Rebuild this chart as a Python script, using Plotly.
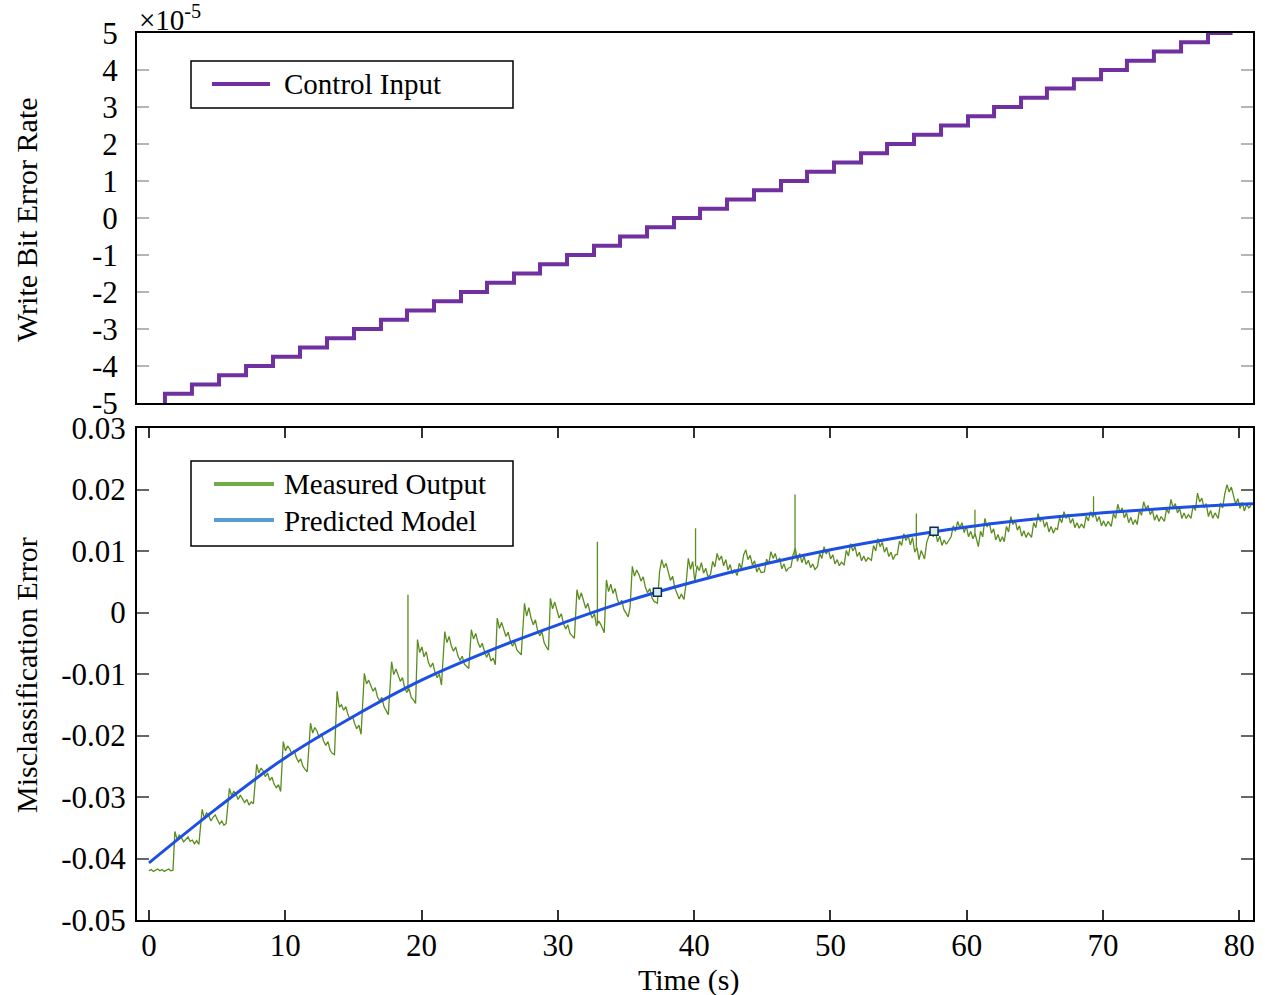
import numpy as np
import plotly.graph_objects as go

W, H = 1265, 995
ML, MR, MT, MB = 137, 12, 33, 75

FONT = "Liberation Serif"
PURPLE = "#7030a0"
GREEN_LINE = "#5a8c1e"
GREEN_LEG = "#70ad47"
BLUE_LINE = "#1d4fe3"
BLUE_LEG = "#5b9bd5"

# ---- top panel: control input (x1e-5), staircase ----
STEP_T = [1.17, 3.15, 5.14, 7.12, 9.10, 11.08, 13.06, 15.04, 17.02, 18.93,
          20.91, 22.89, 24.80, 26.78, 28.69, 30.67, 32.65, 34.56, 36.54, 38.52,
          40.43, 42.41, 44.39, 46.37, 48.28, 50.26, 52.24, 54.15, 56.13, 58.11,
          60.09, 62.00, 63.98, 65.88, 67.86, 69.85, 71.75, 73.73, 75.72, 77.70]
STEP_LEVEL = [-5.0, -4.75, -4.5, -4.25, -4.0, -3.75, -3.5, -3.25, -3.0, -2.75,
              -2.5, -2.25, -2.0, -1.75, -1.5, -1.25, -1.0, -0.75, -0.5, -0.25,
              0.0, 0.25, 0.5, 0.75, 1.0, 1.25, 1.5, 1.75, 2.0, 2.25,
              2.5, 2.75, 3.0, 3.25, 3.5, 3.75, 4.0, 4.25, 4.5, 4.75, 5.0]
STEP_END = 79.5

# ---- bottom panel: measured output (x1e-3), one row per input step ----
DT = 0.16
MEAS_JUMP_T = [0.0, 1.9, 3.9, 5.9, 7.9, 9.85, 11.85, 13.8, 15.8, 17.8,
               19.7, 21.7, 23.65, 25.55, 27.55, 29.45, 31.4, 33.4, 35.3, 37.3,
               39.25, 41.2, 43.15, 45.15, 47.1, 49.05, 51.0, 53.0, 54.9, 56.9,
               58.85, 60.85, 62.75, 64.75, 66.65, 68.6, 70.6, 72.5, 74.5, 76.45,
               78.45]
MEAS_SEG = [
    [-42.0, -41.8, -42.1, -41.9, -41.7, -42.0, -41.8, -42.1, -41.9, -41.7, -42.0, -41.9],
    [-35.6, -36.9, -36.2, -36.6, -37.3, -36.8, -36.5, -37.2, -37.0, -37.6, -37.1, -37.7],
    [-32.0, -33.4, -32.6, -33.0, -33.9, -33.3, -32.9, -33.7, -34.4, -33.9, -34.6, -34.3],
    [-28.6, -29.8, -29.1, -29.5, -30.4, -29.7, -30.2, -30.9, -30.4, -31.3, -30.8, -31.1],
    [-24.7, -26.1, -25.3, -25.8, -26.7, -26.1, -27.3, -26.8, -27.9, -28.5, -28.0, -29.1],
    [-21.0, -22.5, -21.7, -22.2, -23.1, -22.4, -23.6, -24.3, -23.8, -25.0, -25.5, -25.9],
    [-18.0, -19.6, -18.7, -19.3, -20.4, -19.7, -20.9, -21.6, -21.0, -22.4, -22.9, -23.1],
    [-12.8, -15.4, -15.0, -15.9, -15.3, -16.6, -17.4, -16.8, -18.0, -18.9, -18.3, -19.8],
    [-9.9, -11.6, -11.0, -11.9, -12.8, -12.2, -13.7, -14.4, -13.8, -15.3, -16.0, -16.6],
    [-8.0, -10.1, -9.2, -10.4, -11.2, -10.6, -12.3, -13.0, -12.4, -13.8, -14.2, -14.8],
    [-4.4, -6.5, -5.6, -7.2, -6.4, -8.1, -8.9, -8.2, -9.7, -10.6, -10.0, -11.8],
    [-3.1, -4.9, -3.9, -5.4, -6.3, -5.6, -7.0, -7.8, -7.1, -8.4, -8.8, -9.1],
    [-2.8, -4.3, -3.4, -4.8, -5.7, -5.0, -6.3, -7.3, -6.5, -7.9, -7.4, -8.5],
    [-0.9, -2.6, -1.6, -3.0, -3.9, -3.2, -4.6, -5.5, -4.8, -6.1, -6.6, -6.9],
    [1.5, -0.6, 0.8, -0.9, -2.0, -1.2, -2.9, -3.8, -3.1, -4.9, -5.6, -6.1],
    [2.3, 0.6, 1.7, 0.2, -0.9, -0.2, -1.8, -2.7, -2.0, -3.4, -3.9, -4.2],
    [3.7, 2.1, 3.2, 1.8, 0.7, 1.5, 0.0, -0.9, -0.2, -2.2, -1.4, -2.0],
    [-3.3, 5.3, 3.4, 4.6, 3.1, 3.9, 2.2, 1.3, 2.0, 0.5, -0.2, -0.7],
    [0.9, 7.5, 5.9, 6.9, 6.2, 5.1, 5.8, 4.1, 3.2, 3.9, 2.4, 1.8],
    [1.5, 6.6, 8.6, 7.3, 8.0, 6.4, 5.2, 5.9, 4.0, 3.1, 2.2, 3.0],
    [2.1, 4.8, 8.8, 7.0, 8.3, 5.0, 7.6, 6.8, 8.1, 6.4, 7.2, 5.8],
    [6.2, 8.3, 7.4, 9.6, 8.5, 9.2, 7.6, 8.6, 6.9, 7.8, 6.3, 7.0],
    [6.0, 8.0, 7.1, 9.4, 10.2, 8.6, 9.3, 7.7, 8.4, 6.6, 7.3, 6.5],
    [6.6, 8.7, 7.9, 9.9, 8.8, 9.6, 8.2, 8.9, 7.1, 7.9, 6.7, 7.2],
    [7.4, 9.4, 10.4, 8.3, 9.6, 8.1, 9.1, 7.8, 8.5, 7.3, 7.9, 7.0],
    [7.5, 9.6, 8.8, 10.7, 9.5, 10.2, 8.7, 9.4, 7.9, 8.6, 7.6, 8.2],
    [7.7, 10.1, 9.2, 11.2, 10.0, 10.7, 9.1, 9.8, 8.4, 9.2, 8.3, 8.9],
    [8.5, 10.9, 10.0, 12.0, 10.7, 11.4, 9.8, 10.6, 9.1, 9.8, 8.6, 9.4],
    [9.4, 11.6, 10.9, 12.8, 11.7, 12.5, 11.0, 12.2, 9.8, 10.6, 8.6, 10.1],
    [8.7, 11.4, 12.6, 13.5, 12.3, 13.1, 11.5, 12.4, 10.9, 11.8, 11.1, 11.6],
    [12.3, 14.1, 13.2, 14.8, 13.8, 14.6, 13.0, 14.0, 12.3, 13.2, 12.0, 12.8],
    [10.7, 13.2, 12.3, 15.3, 13.9, 14.6, 12.9, 13.6, 11.8, 12.7, 11.5, 12.3],
    [11.5, 14.0, 13.1, 15.6, 14.3, 15.0, 13.4, 14.1, 12.4, 13.3, 12.2, 13.0],
    [12.2, 14.6, 13.8, 16.1, 14.8, 15.5, 13.9, 14.7, 13.1, 14.0, 12.9, 13.7],
    [13.5, 15.4, 14.6, 16.4, 15.3, 16.0, 14.5, 15.3, 13.8, 14.6, 13.7, 14.4],
    [13.7, 15.7, 14.9, 16.4, 15.5, 16.2, 14.8, 15.6, 14.1, 14.9, 14.0, 14.8],
    [14.0, 16.1, 15.3, 17.6, 16.3, 17.0, 15.4, 16.2, 14.6, 15.5, 14.3, 15.1],
    [14.3, 16.6, 15.8, 18.0, 16.8, 17.4, 15.9, 16.6, 15.0, 15.9, 14.8, 15.6],
    [14.8, 16.9, 16.1, 18.4, 17.0, 17.7, 16.2, 16.9, 15.3, 16.2, 15.3, 15.9],
    [15.3, 17.4, 16.6, 19.4, 18.0, 18.6, 17.0, 17.7, 15.6, 16.6, 15.3, 16.2],
    [15.3, 17.8, 17.0, 19.3, 20.8, 19.6, 20.4, 19.0, 17.6, 18.5, 16.9, 17.9, 16.5, 17.6, 17.0, 17.4],
]
# single-sample spikes in the measurement (x1e-3)
SPIKE_T = [19.0, 32.9, 40.1, 47.4, 56.3, 60.6, 69.3]
SPIKE_BASE = [-12.7, -1.8, 7.5, 9.0, 10.6, 12.4, 15.6]
SPIKE_TOP = [2.9, 11.5, 13.7, 19.2, 16.1, 16.7, 18.9]

# predicted model (x1e-3)
MODEL_T = [0, 5, 10, 15, 20, 25, 30, 35, 40, 45, 50, 55, 60, 65, 70, 75, 80, 81]
MODEL_Y = [-40.7, -31.8, -23.6, -16.9, -11.0, -6.2, -2.0, 1.8, 5.0, 7.8,
           10.2, 12.2, 13.9, 15.2, 16.2, 17.0, 17.6, 17.7]
MARK_T = [37.3, 57.6]
MARK_Y = [3.3, 13.2]

TOP_TICKS = [5, 4, 3, 2, 1, 0, -1, -2, -3, -4, -5]
BOT_TICKS = [0.03, 0.02, 0.01, 0, -0.01, -0.02, -0.03, -0.04, -0.05]
BOT_TICKTEXT = ["0.03", "0.02", "0.01", "0", "-0.01", "-0.02", "-0.03", "-0.04", "-0.05"]
X_TICKS = [0, 10, 20, 30, 40, 50, 60, 70, 80]


def px(x):
    return (x - ML) / (W - ML - MR)


def py(y):
    return (H - MB - y) / (H - MT - MB)


fig = go.Figure()

# top: staircase
fig.add_trace(go.Scatter(
    x=[STEP_T[0]] + STEP_T + [STEP_END],
    y=STEP_LEVEL + [STEP_LEVEL[-1]],
    mode="lines", line=dict(color=PURPLE, width=4, shape="hv"),
    xaxis="x", yaxis="y", showlegend=False))

# bottom: measured
mt, my = [], []
for t0, seg in zip(MEAS_JUMP_T, MEAS_SEG):
    for j, v in enumerate(seg):
        mt.append(t0 + j * DT)
        my.append(v * 1e-3)
fig.add_trace(go.Scatter(x=mt, y=my, mode="lines",
                         line=dict(color=GREEN_LINE, width=1.3),
                         xaxis="x2", yaxis="y2", showlegend=False))
sx, sy = [], []
for t, b, tp in zip(SPIKE_T, SPIKE_BASE, SPIKE_TOP):
    sx += [t, t, None]
    sy += [b * 1e-3, tp * 1e-3, None]
fig.add_trace(go.Scatter(x=sx, y=sy, mode="lines",
                         line=dict(color=GREEN_LINE, width=1.3),
                         xaxis="x2", yaxis="y2", showlegend=False))

# bottom: model
fig.add_trace(go.Scatter(x=MODEL_T, y=[v * 1e-3 for v in MODEL_Y], mode="lines",
                         line=dict(color=BLUE_LINE, width=3, shape="spline"),
                         xaxis="x2", yaxis="y2", showlegend=False))
fig.add_trace(go.Scatter(x=MARK_T, y=[v * 1e-3 for v in MARK_Y], mode="markers",
                         marker=dict(symbol="square", size=8, color="#d6eeee",
                                     line=dict(color="#0d2a50", width=1.5)),
                         xaxis="x2", yaxis="y2", showlegend=False))

tickfont = dict(family=FONT, size=31, color="black")
xr = [-0.88, 81.0]
top_dom = [py(403), 1.0]
bot_dom = [0.0, py(428)]

fig.update_layout(
    width=W, height=H,
    margin=dict(l=ML, r=MR, t=MT, b=MB, autoexpand=False),
    plot_bgcolor="white", paper_bgcolor="white",
    font=dict(family=FONT, color="black"),
    xaxis=dict(domain=[0, 1], anchor="y", range=xr, showticklabels=False,
               ticks="", showgrid=False, zeroline=False, automargin=False,
               showline=True, linecolor="black", linewidth=2, mirror=True),
    yaxis=dict(domain=top_dom, anchor="x", range=[-5, 5],
               tickvals=TOP_TICKS, ticktext=[str(v) for v in TOP_TICKS],
               ticks="inside", ticklen=12, tickcolor="#b5b5b5", tickwidth=1.5,
               tickfont=tickfont, ticklabelstandoff=11, automargin=False,
               showgrid=False, zeroline=False,
               showline=True, linecolor="black", linewidth=2, mirror="ticks"),
    xaxis2=dict(domain=[0, 1], anchor="y2", range=xr,
                tickvals=X_TICKS, ticktext=[str(v) for v in X_TICKS],
                ticks="inside", ticklen=10, tickcolor="#333333", tickwidth=1.5,
                tickfont=tickfont, ticklabelstandoff=-3, automargin=False,
                showgrid=False, zeroline=False,
                showline=True, linecolor="black", linewidth=2, mirror="ticks"),
    yaxis2=dict(domain=bot_dom, anchor="x2", range=[-0.05, 0.03],
                tickvals=BOT_TICKS, ticktext=BOT_TICKTEXT,
                ticks="inside", ticklen=12, tickcolor="#666666", tickwidth=1.5,
                tickfont=tickfont, ticklabelstandoff=3, automargin=False,
                showgrid=False, zeroline=False,
                showline=True, linecolor="black", linewidth=2, mirror="ticks"),
)

ann = []
ann.append(dict(text="Write Bit Error Rate", x=px(27), y=py(220), xref="paper", yref="paper",
                xanchor="center", yanchor="middle",
                textangle=-90, showarrow=False, font=dict(family=FONT, size=30)))
ann.append(dict(text="Misclassification Error", x=px(27), y=py(675), xref="paper", yref="paper",
                xanchor="center", yanchor="middle",
                textangle=-90, showarrow=False, font=dict(family=FONT, size=30)))
ann.append(dict(text="Time (s)", x=px(688), y=py(980), xref="paper", yref="paper",
                xanchor="center", yanchor="middle",
                showarrow=False, font=dict(family=FONT, size=30)))
ann.append(dict(text="×10<sup>-5</sup>", x=px(137), y=py(18), xref="paper", yref="paper",
                xanchor="left", yanchor="middle", showarrow=False,
                font=dict(family=FONT, size=29)))

# legend boxes drawn by hand
shapes = [
    dict(type="rect", xref="paper", yref="paper", x0=px(191), x1=px(513), y0=py(108), y1=py(61),
         line=dict(color="black", width=1.5), fillcolor="white"),
    dict(type="line", xref="paper", yref="paper", x0=px(212), x1=px(270), y0=py(84), y1=py(84),
         line=dict(color=PURPLE, width=4)),
    dict(type="rect", xref="paper", yref="paper", x0=px(191), x1=px(513), y0=py(546), y1=py(461),
         line=dict(color="black", width=1.5), fillcolor="white"),
    dict(type="line", xref="paper", yref="paper", x0=px(214), x1=px(274), y0=py(484), y1=py(484),
         line=dict(color=GREEN_LEG, width=4)),
    dict(type="line", xref="paper", yref="paper", x0=px(214), x1=px(274), y0=py(520), y1=py(520),
         line=dict(color=BLUE_LEG, width=4)),
]
for txt, yy in [("Control Input", 84), ("Measured Output", 484), ("Predicted Model", 521)]:
    ann.append(dict(text=txt, x=px(282), y=py(yy), xref="paper", yref="paper",
                    xanchor="left", yanchor="middle", showarrow=False,
                    font=dict(family=FONT, size=29)))

fig.update_layout(annotations=ann, shapes=shapes)

fig.write_html("out.html", config={"displayModeBar": False},
               post_script="document.body.style.margin='0px';")
